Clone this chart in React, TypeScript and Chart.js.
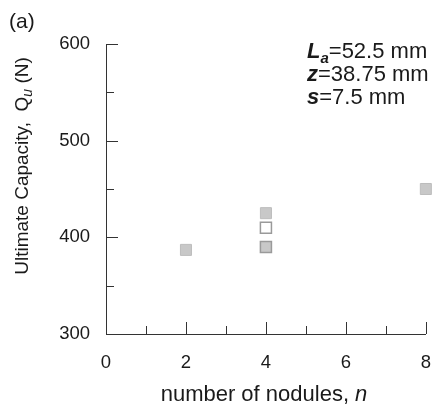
import React, { useEffect, useRef } from "react";
import { Chart, registerables } from "chart.js";

Chart.register(...registerables);

// ---- data ----
const filledN = [2, 4, 8];
const filledQ = [387, 425, 450];
const hollowN = [4];
const hollowQ = [410];
const darkN = [4];
const darkQ = [390];
const xTickLabels = [0, 2, 4, 6, 8];
const yTickLabels = [300, 400, 500, 600];

const FONT = "Arial, 'Liberation Sans', sans-serif";

type Seg = { t: string; font: string; dy?: number };

function drawSegs(ctx: CanvasRenderingContext2D, segs: Seg[], x: number, y: number) {
  let cx = x;
  for (const s of segs) {
    ctx.font = s.font;
    ctx.fillText(s.t, cx, y + (s.dy || 0));
    cx += ctx.measureText(s.t).width;
  }
  return cx - x;
}
function segsWidth(ctx: CanvasRenderingContext2D, segs: Seg[]) {
  let w = 0;
  for (const s of segs) {
    ctx.font = s.font;
    w += ctx.measureText(s.t).width;
  }
  return w;
}

const decorPlugin = {
  id: "decor",
  afterDraw(chart: any) {
    const ctx: CanvasRenderingContext2D = chart.ctx;
    const xs = chart.scales.x;
    const ys = chart.scales.y;
    const area = chart.chartArea;
    ctx.save();
    // inward tick marks
    ctx.strokeStyle = "#333333";
    ctx.lineWidth = 1;
    ctx.beginPath();
    for (const t of xs.ticks) {
      const px = Math.round(xs.getPixelForValue(t.value)) + 0.5;
      const major = xTickLabels.includes(t.value);
      const len = major ? 12 : 8;
      ctx.moveTo(px, area.bottom);
      ctx.lineTo(px, area.bottom - len);
    }
    for (const t of ys.ticks) {
      const py = Math.round(ys.getPixelForValue(t.value)) + 0.5;
      const major = yTickLabels.includes(t.value);
      const len = major ? 12 : 8;
      ctx.moveTo(area.left, py);
      ctx.lineTo(area.left + len, py);
    }
    ctx.stroke();

    ctx.fillStyle = "#1a1a1a";
    ctx.textBaseline = "alphabetic";
    ctx.textAlign = "left";
    // (a)
    ctx.font = `21px ${FONT}`;
    ctx.fillText("(a)", 9, 28);

    // x title
    const xSegs: Seg[] = [
      { t: "number of nodules, ", font: `22px ${FONT}` },
      { t: "n", font: `italic 22px ${FONT}` },
    ];
    const xw = segsWidth(ctx, xSegs);
    drawSegs(ctx, xSegs, 264 - xw / 2, 401);

    // y title (rotated)
    const ySegs: Seg[] = [
      { t: "Ultimate Capacity,  Q", font: `19px ${FONT}` },
      { t: "u", font: `italic 14px ${FONT}`, dy: 4 },
      { t: " (N)", font: `19px ${FONT}` },
    ];
    const yw = segsWidth(ctx, ySegs);
    ctx.save();
    ctx.translate(28, 166);
    ctx.rotate(-Math.PI / 2);
    drawSegs(ctx, ySegs, -yw / 2, 0);
    ctx.restore();

    // annotation
    const ax = 307;
    drawSegs(ctx, [
      { t: "L", font: `bold italic 22px ${FONT}` },
      { t: "a", font: `bold italic 15px ${FONT}`, dy: 5 },
      { t: "=52.5 mm", font: `22px ${FONT}` },
    ], ax, 58);
    drawSegs(ctx, [
      { t: "z", font: `bold italic 22px ${FONT}` },
      { t: "=38.75 mm", font: `22px ${FONT}` },
    ], ax, 81);
    drawSegs(ctx, [
      { t: "s", font: `bold italic 22px ${FONT}` },
      { t: "=7.5 mm", font: `22px ${FONT}` },
    ], ax, 104);
    ctx.restore();
  },
};

export default function App() {
  const ref = useRef<HTMLCanvasElement | null>(null);
  useEffect(() => {
    if (!ref.current) return;
    const toPts = (xs: number[], ys: number[]) => xs.map((x, i) => ({ x, y: ys[i] }));
    const chart = new Chart(ref.current, {
      type: "scatter",
      data: {
        datasets: [
          {
            label: "filled",
            data: toPts(filledN, filledQ),
            pointStyle: "rect",
            pointRadius: 7.8,
            backgroundColor: "#c8c8c8",
            borderColor: "#bdbdbd",
            borderWidth: 1,
            clip: false as any,
          },
          {
            label: "hollow",
            data: toPts(hollowN, hollowQ),
            pointStyle: "rect",
            pointRadius: 7.8,
            backgroundColor: "#ffffff",
            borderColor: "#9a9a9a",
            borderWidth: 1.5,
            clip: false as any,
          },
          {
            label: "dark",
            data: toPts(darkN, darkQ),
            pointStyle: "rect",
            pointRadius: 7.8,
            backgroundColor: "#c8c8c8",
            borderColor: "#9a9a9a",
            borderWidth: 1.5,
            clip: false as any,
          },
        ],
      },
      options: {
        responsive: false,
        animation: false,
        events: [],
        layout: { padding: { top: 44, right: 11, left: 0, bottom: 0 } },
        plugins: { legend: { display: false }, tooltip: { enabled: false } },
        scales: {
          x: {
            type: "linear",
            min: 0,
            max: 8,
            grid: { display: false },
            border: { display: true, color: "#333333", width: 1 },
            ticks: {
              stepSize: 1,
              padding: 10,
              color: "#1a1a1a",
              font: { family: FONT, size: 18.5 },
              autoSkip: false,
              maxRotation: 0,
              callback: (v: any) => (xTickLabels.includes(Number(v)) ? String(v) : ""),
            },
            afterFit: (s: any) => {
              s.height = 84;
            },
          },
          y: {
            type: "linear",
            min: 300,
            max: 600,
            grid: { display: false },
            border: { display: true, color: "#333333", width: 1 },
            ticks: {
              stepSize: 50,
              padding: 8,
              color: "#1a1a1a",
              font: { family: FONT, size: 18.5 },
              autoSkip: false,
              callback: (v: any) => (yTickLabels.includes(Number(v)) ? String(v) : ""),
            },
            afterFit: (s: any) => {
              s.width = 106;
            },
          },
        },
      },
      plugins: [decorPlugin],
    });
    return () => chart.destroy();
  }, []);
  return (
    <div style={{ position: "absolute", left: 0, top: 0, width: 441, height: 418, background: "#fff" }}>
      <canvas ref={ref} width={441} height={418} style={{ width: 441, height: 418, display: "block" }} />
    </div>
  );
}
